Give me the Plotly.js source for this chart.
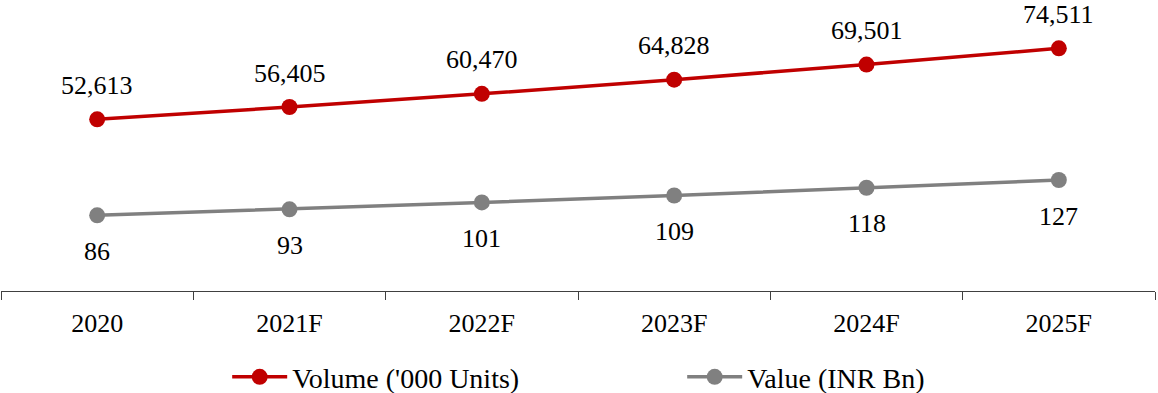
<!DOCTYPE html>
<html>
<head>
<meta charset="utf-8">
<script src="https://cdn.plot.ly/plotly-3.0.1.min.js"></script>
<style>
  html, body { margin: 0; padding: 0; background: #fff; }
  #chart { width: 1158px; height: 393px; }
</style>
</head>
<body>
<div id="chart"></div>
<script>
// Market size: volume and value, 2020 to 2025 forecast
const years = ['2020', '2021F', '2022F', '2023F', '2024F', '2025F'];
const volumeUnits = [52613, 56405, 60470, 64828, 69501, 74511];  // '000 units
const valueInrBn = [86, 93, 101, 109, 118, 127];                 // INR Bn

const volumeName = "Volume ('000 Units)";
const valueName = 'Value (INR Bn)';

const RED = '#C00000';
const GREY = '#808080';
const FONT = 'Liberation Serif, Times New Roman, serif';

const fmt = v => v.toLocaleString('en-US');

const traces = [
  {
    x: years, y: volumeUnits, name: volumeName, yaxis: 'y',
    type: 'scatter', mode: 'lines+markers',
    line: { color: RED, width: 3.5 },
    marker: { color: RED, size: 16 },
    hoverinfo: 'skip'
  },
  {
    x: years, y: valueInrBn, name: valueName, yaxis: 'y2',
    type: 'scatter', mode: 'lines+markers',
    line: { color: GREY, width: 3.5 },
    marker: { color: GREY, size: 16 },
    hoverinfo: 'skip'
  }
];

// Value labels: volume above its markers, value below.
// On a category axis the annotation x is the category index.
const annotations = [];
years.forEach((yr, i) => {
  annotations.push({
    x: i, y: volumeUnits[i], xref: 'x', yref: 'y',
    text: fmt(volumeUnits[i]), showarrow: false,
    yanchor: 'middle', yshift: 34,
    font: { family: FONT, size: 26, color: '#000' }
  });
  annotations.push({
    x: i, y: valueInrBn[i], xref: 'x', yref: 'y2',
    text: fmt(valueInrBn[i]), showarrow: false,
    yanchor: 'middle', yshift: -36,
    font: { family: FONT, size: 26, color: '#000' }
  });
});

const layout = {
  width: 1158, height: 393,
  margin: { l: 1, r: 3, t: 0, b: 102, autoexpand: false },
  paper_bgcolor: '#fff', plot_bgcolor: '#fff',
  font: { family: FONT, size: 26, color: '#000' },
  showlegend: true,
  legend: {
    orientation: 'h', x: 0.196, xanchor: 'left', y: -0.296, yanchor: 'middle',
    font: { family: FONT, size: 28, color: '#000' },
    itemwidth: 55, entrywidth: 385, traceorder: 'normal'
  },
  xaxis: {
    type: 'category', tickson: 'boundaries',
    range: [-0.5, years.length - 0.5],
    showline: true, linecolor: '#404040', linewidth: 1,
    ticks: 'outside', ticklen: 8, tickcolor: '#404040', tickwidth: 1,
    showgrid: false, zeroline: false, fixedrange: true,
    ticklabelstandoff: 9, tickangle: 0,
    tickfont: { family: FONT, size: 26, color: '#000' }
  },
  yaxis: {
    range: [-348, 89411], visible: false, showgrid: false, zeroline: false, fixedrange: true
  },
  yaxis2: {
    range: [-1.9, 336.1], overlaying: 'y', side: 'right',
    visible: false, showgrid: false, zeroline: false, fixedrange: true
  },
  annotations: annotations
};

Plotly.newPlot('chart', traces, layout, { displayModeBar: false, staticPlot: true });
</script>
</body>
</html>
